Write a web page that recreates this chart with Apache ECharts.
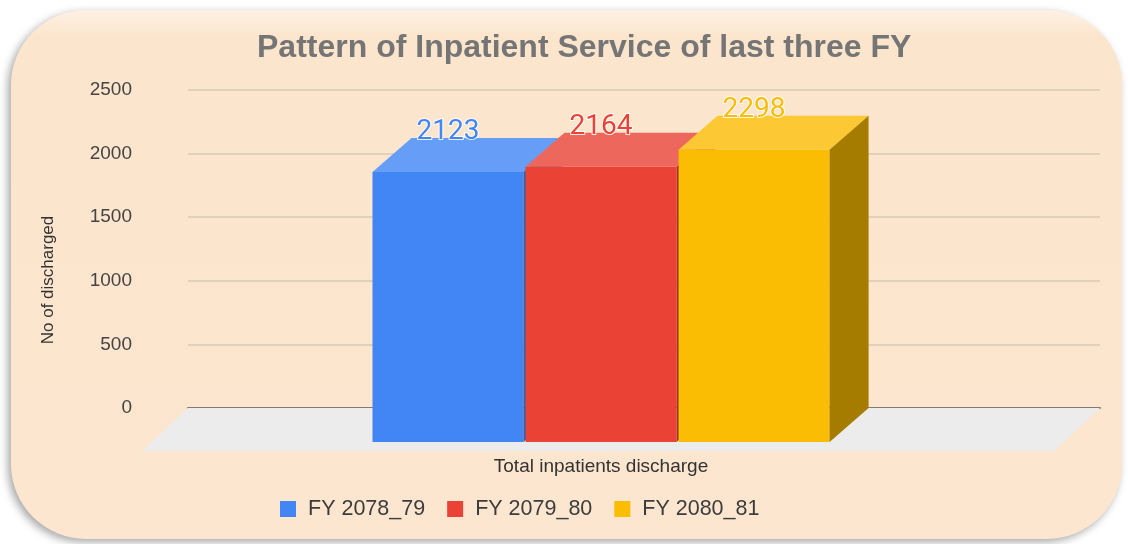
<!DOCTYPE html>
<html>
<head>
<meta charset="utf-8">
<style>
html,body{margin:0;padding:0;background:#ffffff;}
#chart{width:1128px;height:544px;}
</style>
<script src="https://cdn.jsdelivr.net/npm/echarts@6/dist/echarts.min.js"></script>
</head>
<body>
<div id="chart"></div>
<script>
// ---- data ----
const categories = ['Total inpatients discharge'];
const seriesNames = ['FY 2078_79', 'FY 2079_80', 'FY 2080_81'];
const values = [2123, 2164, 2298];
const yTicks = { min: 0, max: 2500, interval: 500 };

// ---- styles ----
const faceColors = [
  { front: '#4285f4', top: '#669df6', side: '#2f5fb0' },
  { front: '#ea4335', top: '#ee675c', side: '#a93027' },
  { front: '#fbbc04', top: '#fcc934', side: '#a67c00' }
];
const DX = 39, DY = 34;          // bar depth offset (back = front + (DX,-DY))
const FLOOR_DX = 46, FLOOR_DY = 43;
const FONT = '"Liberation Sans", Arial, sans-serif';

const chart = echarts.init(document.getElementById('chart'));

function barRender(params, api) {
  const i = params.seriesIndex - 1;
  const base = api.coord([api.value(0), 0]);
  const top = api.coord([api.value(0), api.value(1)]);
  const band = api.size([1, 0])[0];
  const bw = band * 0.1656;
  const step = band * 0.1678;
  const frontCenter = base[0] - band * 0.0471 + (i - 1) * step;
  const x0 = frontCenter - bw / 2, x1 = frontCenter + bw / 2;
  const yT = top[1] + DY, yB = base[1] + DY;
  const c = faceColors[i];
  return {
    type: 'group',
    children: [
      { type: 'rect', shape: { x: x0, y: yT, width: bw, height: yB - yT }, style: { fill: c.front } },
      { type: 'polygon', shape: { points: [[x0, yT], [x1, yT], [x1 + DX, yT - DY], [x0 + DX, yT - DY]] }, style: { fill: c.top } },
      { type: 'polygon', shape: { points: [[x1, yT], [x1 + DX, yT - DY], [x1 + DX, yB - DY], [x1, yB]] }, style: { fill: c.side } },
      { type: 'text', x: frontCenter, y: yT - 40,
        style: { text: String(api.value(1)), fill: c.front, font: '28px Roboto', textAlign: 'center', textVerticalAlign: 'middle',
                 stroke: 'rgba(255,255,255,0.85)', lineWidth: 2 } }
    ]
  };
}

function floorRender(params, api) {
  const cs = params.coordSys;
  const y0 = cs.y + cs.height;
  const xl = cs.x, xr = cs.x + cs.width;
  return {
    type: 'polygon',
    shape: { points: [[xl, y0], [xr, y0], [xr - FLOOR_DX, y0 + FLOOR_DY], [xl - FLOOR_DX, y0 + FLOOR_DY]] },
    style: { fill: '#ececec' }
  };
}

const series = [{
  type: 'custom', name: 'floor', silent: true, z: 1,
  renderItem: floorRender, data: [[0, 0]], encode: { x: 0, y: 1 }
}];
seriesNames.forEach((n, k) => {
  series.push({
    type: 'custom', name: n, z: 3 + k,
    itemStyle: { color: faceColors[k].front },
    renderItem: barRender,
    data: [[0, values[k]]],
    encode: { x: 0, y: 1 }
  });
});

chart.setOption({
  backgroundColor: '#ffffff',
  animation: false,
  graphic: [{
    type: 'rect', z: -10,
    shape: { x: 11, y: 10, width: 1111, height: 529, r: 75 },
    style: {
      fill: new echarts.graphic.LinearGradient(0, 0, 0, 1, [
        { offset: 0, color: '#fdf1e4' }, { offset: 0.05, color: '#fce5cd' }, { offset: 1, color: '#fce6cf' }
      ]),
      shadowBlur: 8, shadowColor: 'rgba(0,0,0,0.35)', shadowOffsetX: -3, shadowOffsetY: 3
    }
  }],
  title: {
    text: 'Pattern of Inpatient Service of last three FY',
    left: 257, top: 32, padding: 0,
    textStyle: { fontFamily: FONT, fontSize: 32, fontWeight: 'bold', color: '#757575' }
  },
  legend: {
    data: seriesNames, left: 275, top: 493,
    icon: 'rect', itemWidth: 16, itemHeight: 16, itemGap: 22,
    textStyle: { fontFamily: FONT, fontSize: 21.5, color: '#3c3c3c', padding: [0, 0, 0, 7] }
  },
  grid: { left: 188, right: 28, top: 90, bottom: 136 },
  xAxis: {
    type: 'category', data: categories,
    axisLine: { show: true, lineStyle: { color: '#857a6e', width: 2 } },
    axisTick: { show: false },
    axisLabel: { margin: 49, padding: [0, 86, 0, 0], fontFamily: FONT, fontSize: 19, color: '#333333' },
    splitLine: { show: false }
  },
  yAxis: {
    type: 'value', min: yTicks.min, max: yTicks.max, interval: yTicks.interval,
    name: 'No of discharged', nameLocation: 'middle', nameRotate: 90, nameGap: 131,
    nameTextStyle: { fontFamily: FONT, fontSize: 17, color: '#333333', padding: [0, 62, 0, 0] },
    axisLine: { show: false }, axisTick: { show: false },
    axisLabel: { margin: 56, fontFamily: FONT, fontSize: 19, color: '#444444', formatter: v => String(v) },
    splitLine: { lineStyle: { color: '#d9c8b3', width: 1.5 } }
  },
  series: series
});
</script>
</body>
</html>
